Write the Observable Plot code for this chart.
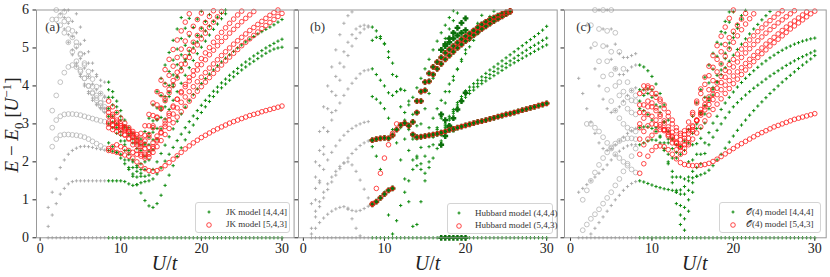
<!DOCTYPE html>
<html><head><meta charset="utf-8">
<script src="https://cdn.jsdelivr.net/npm/d3@7"></script>
<script src="https://cdn.jsdelivr.net/npm/@observablehq/plot@0.6"></script>
<style>
html,body{margin:0;padding:0;background:#fff;}
#wrap{position:relative;width:830px;height:277px;overflow:hidden;font-family:"Liberation Serif",serif;color:#222;}
.pnl{position:absolute;top:0;}
.leg{position:absolute;border:1px solid #d4d4d4;border-radius:3px;background:rgba(255,255,255,0.85);font-size:9px;color:#333;box-sizing:border-box;}
.leg .mk{position:absolute;width:10px;height:10px;}
.leg .tx{position:absolute;white-space:nowrap;line-height:10px;}
.xl{position:absolute;top:253px;font-size:20px;line-height:20px;transform:translateX(-50%);white-space:nowrap;}
.yl{position:absolute;left:13px;top:125px;font-size:19px;line-height:20px;white-space:nowrap;transform:translate(-50%,-50%) rotate(-90deg);}
</style></head>
<body><div id="wrap"></div>
<script>
// ---- shared U grid (U/t) ----
const Ugrid = [0.5,1,1.5,2,2.5,3,3.5,4,4.5,5,5.5,6,6.5,7,7.5,8,8.5,9,9.5,10,10.5,11,11.5,12,12.5,13,13.5,14,14.5,15,15.5,16,16.5,17,17.5,18,18.5,19,19.5,20,20.5,21,21.5,22,22.5,23,23.5,24,24.5,25,25.5,26,26.5,27,27.5,28,28.5,29,29.5,30];
const xTicks = [0,10,20,30];
const yTicks = [0,1,2,3,4,5,6];

// ground state level E - E0 = 0
const groundColored = {s:8.5, e:[0,0,0,0,0,0,0,0,0,0,0,0,0,0,0,0,0,0,0,0,0,0,0,0,0,0,0,0,0,0,0,0,0,0,0,0,0,0,0,0,0,0,0,0]};
const groundGray = {s:1, e:[0,0,0,0,0,0,0,0,0,0,0,0,0,0,0]};

// ---- (a) JK model ----
const jkGreen = [
  groundColored,
  {s:8.5, e:[2.3,2.28,2.25,2.2,2.05,1.85,1.62,1.4,1.18,0.98,0.84,0.8,0.9,1.12,1.38,1.65,1.9,2.14,2.37,2.58,2.78,2.97,3.14,3.3,3.45,3.59,3.72,3.84,3.95,4.05,4.15,4.24,4.33,4.42,4.5,4.58,4.65,4.72,4.79,4.86,4.92,4.97,5.0,5.02]},
  {s:8.5, e:[1.5,1.5,1.5,1.5,1.48,1.42,1.38,1.4,1.45,1.48,1.5,1.55,1.68,1.84,2.02,2.2,2.38,2.56,2.73,2.9,3.06,3.21,3.35,3.49,3.62,3.74,3.86,3.97,4.08,4.18,4.28,4.37,4.46,4.55,4.63,4.71,4.79,4.86,4.93,5.0,5.06,5.12,5.18,5.23]},
  {s:8.5, e:[3.4,3.2,3.0,2.8,2.55,2.3,2.05,1.85,1.7,1.62,1.65,1.8,2.0,2.22,2.44,2.66,2.87,3.07,3.26,3.44,3.61,3.77,3.92,4.06,4.19,4.31,4.42,4.53,4.63,4.73,4.82,4.91,5.0,5.08,5.16,5.23,5.3,5.37,5.43,5.49,5.55,5.61,5.68,5.75]},
  {s:8.5, e:[4.1,3.85,3.6,3.35,3.1,2.9,2.75,2.62,2.6,2.8,3.15,3.5,3.85,4.2,4.55,4.88,5.2,5.5,5.8]},
  {s:8.5, e:[3.7,3.5,3.3,3.1,2.9,2.7,2.5,2.35,2.3,2.45,2.75,3.08,3.42,3.75,4.07,4.38,4.68,4.97,5.25,5.52,5.78]},
  {s:8.5, e:[3.2,3.05,2.9,2.7,2.45,2.2,2.0,1.9,1.95,2.15,2.45,2.78,3.1,3.42,3.72,4.01,4.29,4.56,4.82,5.07,5.31,5.54,5.76,5.97]},
  {s:8.5, e:[3.0,2.9,2.75,2.55,2.3,2.05,1.85,1.75,1.8,2.0,2.28,2.58,2.88,3.17,3.45,3.72,3.98,4.23,4.47,4.7,4.92,5.13,5.33,5.52,5.7,5.88]},
  {s:8.5, e:[2.5,2.4,2.25,2.1,1.95,1.8,1.68,1.6,1.62,1.8,2.05,2.32,2.6,2.87,3.13,3.38,3.62,3.85,4.07,4.28,4.48,4.67,4.85,5.02,5.18,5.34,5.49,5.63,5.77,5.9]},
  {s:8.5, e:[3.9,3.7,3.45,3.2,2.95,2.75,2.6,2.5,2.45,2.5,2.65,2.88,3.12,3.36,3.6,3.83,4.05,4.26,4.46,4.65,4.83,5.0,5.16,5.31,5.45,5.58,5.7,5.81,5.91,6.0]}
];
const jkRed = [
  {s:8.5, e:[2.3,2.28,2.25,2.22,2.18,2.15,2.1,2.0,1.9,1.82,1.77,1.75,1.77,1.82,1.9,1.98,2.07,2.16,2.25,2.34,2.42,2.5,2.57,2.64,2.7,2.76,2.82,2.87,2.92,2.97,3.02,3.06,3.1,3.14,3.18,3.22,3.25,3.28,3.32,3.35,3.38,3.41,3.44,3.47]},
  {s:8.5, e:[3.05,2.98,2.9,2.82,2.72,2.6,2.45,2.3,2.2,2.15,2.2,2.35,2.55,2.78,3.0,3.22,3.44,3.65,3.85,4.04,4.22,4.4,4.56,4.72,4.87,5.01,5.15,5.28,5.41,5.53,5.65,5.76,5.87,5.97]},
  {s:8.5, e:[3.3,3.2,3.1,3.0,2.92,2.85,2.75,2.6,2.45,2.35,2.38,2.5,2.68,2.88,3.08,3.28,3.47,3.65,3.82,3.98,4.13,4.28,4.42,4.56,4.69,4.82,4.94,5.06,5.17,5.28,5.39,5.49,5.59,5.69,5.78,5.87,5.96]},
  {s:8.5, e:[3.4,3.25,3.05,2.95,2.9,2.8,2.65,2.5,2.3,2.2,2.25,2.4,2.58,2.76,2.93,3.1,3.26,3.42,3.57,3.71,3.85,3.98,4.11,4.23,4.35,4.47,4.58,4.69,4.8,4.9,5.0,5.1,5.19,5.28,5.37,5.46,5.54,5.62,5.7,5.78,5.86,5.93,6.0]},
  {s:8.5, e:[2.35,2.4,2.45,2.4,2.35,2.3,2.25,2.2,2.15,2.1,2.12,2.25,2.4,2.56,2.72,2.88,3.03,3.18,3.32,3.46,3.6,3.73,3.86,3.98,4.1,4.22,4.33,4.44,4.55,4.66,4.76,4.86,4.96,5.06,5.15,5.24,5.33,5.42,5.51,5.59,5.67,5.75,5.83,5.91]},
  {s:8.5, e:[3.6,3.45,3.3,3.15,3.02,2.9,2.8,2.72,2.75,2.95,3.25,3.55,3.85,4.15,4.43,4.7,4.96,5.21,5.45,5.68,5.9]},
  {s:8.5, e:[3.2,3.1,3.02,2.95,2.88,2.8,2.72,2.65,2.6,2.7,2.95,3.22,3.5,3.77,4.03,4.28,4.52,4.75,4.97,5.18,5.38,5.57,5.75,5.92]},
  {s:8.5, e:[2.9,2.85,2.8,2.75,2.7,2.62,2.55,2.45,2.4,2.45,2.65,2.9,3.16,3.42,3.67,3.91,4.14,4.36,4.57,4.77,4.96,5.15,5.33,5.5,5.67,5.83,5.98]},
  {s:8.5, e:[3.0,2.95,2.92,2.9,2.85,2.78,2.68,2.55,2.5,2.55,2.72,2.95,3.18,3.4,3.61,3.82,4.02,4.21,4.4,4.58,4.75,4.92,5.08,5.24,5.39,5.54,5.68,5.82,5.96]}
];
const jkGrayPlus = [
  groundGray,
  {s:1, e:[0.3,0.6,0.9,1.15,1.3,1.42,1.48,1.5,1.5,1.5,1.5,1.5,1.5,1.5,1.5]},
  {s:1, e:[0.8,1.2,1.55,1.85,2.05,2.2,2.3,2.36,2.4,2.41,2.4,2.38,2.35,2.33,2.31]},
  {s:3.5, e:[6.0,5.7,5.4,5.1,4.85,4.6,4.4,4.25,4.15,4.1]},
  {s:3, e:[6.0,5.65,5.3,5.0,4.72,4.47,4.25,4.05,3.9,3.8,3.73]},
  {s:2.5, e:[5.9,5.5,5.15,4.82,4.52,4.25,4.0,3.8,3.62,3.5,3.43,3.4]},
  {s:4.5, e:[5.9,5.55,5.2,4.9,4.6,4.3,4.0,3.7]},
  {s:3, e:[5.8,5.35,4.95,4.6,4.3,4.05,3.85,3.68,3.52,3.4,3.3]}
];
const jkGrayCircle = [
  {s:1.5, e:[2.4,2.6,2.7,2.72,2.72,2.71,2.7,2.68,2.65,2.6,2.54,2.48,2.42,2.36]},
  {s:1.5, e:[2.9,3.1,3.2,3.25,3.26,3.26,3.25,3.23,3.2,3.17,3.14,3.11,3.08,3.06]},
  {s:1.5, e:[3.35,3.75,4.1,4.35,4.5,4.55,4.5,4.38,4.2,4.0,3.8,3.62,3.47,3.35]},
  {s:1.5, e:[5.75,5.75,5.6,5.4,5.15,4.9,4.65,4.42,4.2,4.0,3.83,3.68,3.55,3.45]},
  {s:2, e:[6.0,5.85,5.7,5.5,5.28,5.05,4.82,4.6,4.38,4.18,3.98,3.8,3.65]},
  {s:3, e:[5.95,5.75,5.45,5.15,4.85,4.55,4.25,3.98,3.75,3.55,3.38]}
];

// ---- (b) Hubbard model ----
const hubShared = [
  {s:8.5, e:[2.57,2.6,2.62,2.63,2.62,2.7,2.85,2.97,3.02,2.95,2.72,2.65,2.66,2.68,2.7,2.72,2.74,2.77,2.8,2.84,2.87,2.9,2.93,2.96,2.99,3.02,3.05,3.07,3.1,3.13,3.16,3.19,3.22,3.25,3.27,3.3,3.33,3.36,3.39,3.42,3.45,3.48,3.51,3.54]},
  {s:8.5, e:[0.88,0.95,1.05,1.15,1.25,1.3]},
  {s:13.5, e:[3.05,3.6,3.85,4.1,4.33,4.5,4.63,4.75,4.87,4.96,5.05,5.14,5.23,5.31,5.38,5.46,5.54,5.62,5.69,5.75,5.8,5.85,5.9,5.94,5.98]},
  {s:14, e:[3.3,3.6,3.88,4.12,4.3,4.45,4.58,4.7,4.8,4.9,5.0,5.09,5.18,5.26,5.34,5.42,5.5,5.57,5.64,5.71,5.77,5.83,5.89,5.95]}
];
const hubGreenThickOnly = [
  {s:17, e:[0,0,0,0,0,0,0]},
  {s:17, e:[2.45,2.68,2.92,3.15,3.38,3.6,3.82]},
  {s:17, e:[3.25,3.1,2.95,2.85]},
  {s:17, e:[4.95,5.1,5.25,5.4,5.53,5.66,5.78]},
  {s:17, e:[4.95,5.05,5.15,5.25,5.33,5.4,5.47]}
];
const hubGreen = [
  groundColored,
  {s:8.5, e:[2.4,2.15,1.8,1.2,0.6,0.1,0.45,0.85,1.2,1.5,1.8,2.1,2.38,2.65,2.9,3.15,3.4,3.62,3.85,4.05,4.25,4.45,4.65,4.85,5.03,5.2,5.37,5.53,5.68,5.83,5.97]},
  {s:8.5, e:[5.55,5.45,5.3,5.1,4.75,4.3,3.85,3.45,3.1,2.85,2.7]},
  {s:8.5, e:[5.2,5.28,5.25,5.12,4.9,4.6,4.25,3.9]},
  {s:8.5, e:[4.45,4.3,4.15,4.0,3.82,3.75,3.85,3.92,3.88,3.6,3.25,2.95,2.7]},
  {s:17, e:[2.8,3.0,3.2,3.38,3.56,3.72,3.87,3.97,4.06,4.15,4.24,4.33,4.42,4.5,4.58,4.66,4.74,4.82,4.9,4.98,5.06,5.14,5.22,5.3,5.38,5.47,5.57]},
  {s:17, e:[2.75,2.95,3.15,3.33,3.5,3.65,3.78,3.88,3.97,4.06,4.14,4.22,4.3,4.38,4.45,4.52,4.59,4.66,4.73,4.8,4.87,4.94,5.01,5.07,5.13,5.2,5.26]},
  {s:17, e:[2.7,2.9,3.1,3.28,3.44,3.58,3.7,3.8,3.89,3.98,4.06,4.13,4.2,4.27,4.34,4.41,4.48,4.55,4.61,4.67,4.73,4.79,4.85,4.91,4.97,5.03,5.08]},
  {s:8.5, e:[3.72,3.65,3.55,3.4,3.15,2.85,2.5,2.05,1.55,0.95,0.3,0.35,0.95,1.5,2.0,2.45,2.85,3.2,3.55,3.85,4.15,4.43,4.7,4.95,5.2,5.43,5.65,5.86]},
  {s:12, e:[2.9,2.6,2.3,2.05,1.9,1.95,2.15,2.4,2.65,2.9,3.15]},
  {s:12.5, e:[3.3,3.0,2.6,2.15,1.8,1.7,1.85,2.1,2.35,2.55]},
  {s:14, e:[2.6,3.0,3.4,3.8,4.2,4.6,4.95,5.25,5.5,5.72,5.92]},
  {s:13, e:[3.5,3.7,3.95,4.2,4.45,4.7,4.95,5.18,5.4,5.6,5.8,5.98]}
];
const hubRedOnly = [
  {s:8.5, e:[0.9,1.3,1.7,2.1,2.45,2.75,3.0]}
];
const hubGrayPlus = [
  groundGray,
  {s:1, e:[0.25,0.55,0.82,1.05,1.27,1.47,1.65,1.82,1.97,2.1,2.22,2.33,2.43,2.5,2.55]},
  {s:1.5, e:[1.0,1.45,1.8,2.05,2.25,2.42,2.57,2.7,2.8,2.88,2.95,3.0,3.04,3.06]},
  {s:1.5, e:[1.3,1.9,2.4,2.8,3.1,3.35,3.55,3.75,3.92,4.07,4.2,4.32,4.4,4.42]},
  {s:1, e:[0.9,1.6,2.3,2.9,3.4,3.85,4.25,4.6,4.9,5.15,5.35,5.5,5.57,5.6,5.58]},
  {s:1.5, e:[2.0,2.8,3.45,4.0,4.5,4.95,5.35,5.65,5.85,5.95]},
  {s:1.5, e:[0.7,0.95,1.2,1.42,1.6,1.75,1.88,1.97,2.0,1.92,1.75,1.52,1.28,1.05]},
  {s:1, e:[0.1,0.25,0.4,0.52,0.62,0.7,0.76,0.8,0.82,0.78,0.72,0.7,0.72,0.77,0.83]},
  {s:5.5, e:[0.75,0.5,0.25,0.05]},
  {s:2, e:[1.5,2.2,2.8,3.3,3.75,4.15,4.5,4.8,5.05,5.25,5.4,5.5,5.55]}
];
const hubGrayCircle = [];

// ---- (c) O(4) model ----
const o4Green = [
  groundColored,
  {s:8.5, e:[1.5,1.47,1.43,1.39,1.35,1.32,1.29,1.27,1.25,1.25,1.26,1.35,1.5,1.58,1.62,1.66,1.7,1.78,1.9,2.05,2.2,2.36,2.52,2.68,2.83,2.97,3.1,3.23,3.35,3.47,3.58,3.69,3.8,3.9,4.0,4.1,4.19,4.28,4.37,4.46,4.55,4.63,4.71,4.8]},
  {s:8.5, e:[2.45,2.5,2.55,2.58,2.57,2.5,2.3,1.95,1.45,0.9,0.35,0.2,0.7,1.2,1.62,1.95,2.22,2.45,2.65,2.83,3.0,3.16,3.31,3.45,3.56,3.66,3.76,3.85,3.94,4.02,4.1,4.18,4.26,4.33,4.4,4.47,4.54,4.6,4.66,4.72,4.77,4.82,4.87,4.92]},
  {s:8.5, e:[2.9,2.92,2.92,2.88,2.8,2.68,2.5,2.2,1.75,1.2,0.6,0.5,1.0,1.45,1.85,2.2,2.5,2.77,3.02,3.2,3.38,3.55,3.7,3.84,3.97,4.09,4.2,4.3,4.4,4.49,4.58,4.66,4.74,4.81,4.88,4.94,5.0,5.05,5.1,5.14,5.18,5.21,5.24,5.26]},
  {s:8.5, e:[3.4,3.35,3.25,3.1,2.9,2.65,2.35,2.0,1.6,1.2,0.85,0.8,1.25,1.75,2.2,2.62,3.02,3.4,3.76,4.1,4.42,4.72,5.0,5.27,5.52,5.76,5.99]},
  {s:8.5, e:[3.9,3.9,3.92,3.9,3.75,3.45,3.05,2.6,2.1,1.6,1.15,1.15,1.6,2.05,2.48,2.88,3.26,3.62,3.96,4.28,4.58,4.86,5.13,5.38,5.62,5.85]},
  {s:8.5, e:[4.55,4.5,4.4,4.25,4.05,3.8,3.5,3.1,2.6,2.1,1.6,1.55,2.0,2.45,2.88,3.3,3.7,4.08,4.44,4.78,5.1,5.4,5.68,5.95]},
  {s:8.5, e:[3.6,3.75,3.8,3.7,3.5,3.3,3.05,2.8,2.6,2.45,2.4,2.55,2.85,3.2,3.55,3.9,4.23,4.55,4.86,5.15,5.43,5.7,5.95]},
  {s:12, e:[2.5,2.35,2.25,2.2,2.3,2.5,2.75,3.0,3.25,3.48,3.7,3.91,4.11,4.3,4.48,4.65,4.81,4.96,5.1,5.24,5.37,5.5,5.62,5.74,5.85,5.96]}
];
const o4Red = [
  {s:8.5, e:[1.7,1.95,2.15,2.3,2.4,2.42,2.4,2.32,2.2,2.08,1.98,1.93,1.91,1.9,1.9,1.91,1.93,1.96,2.01,2.07,2.14,2.21,2.28,2.35,2.42,2.48,2.54,2.6,2.66,2.72,2.77,2.82,2.87,2.92,2.96,3.0,3.04,3.08,3.12,3.15,3.18,3.21,3.24,3.27]},
  {s:8.5, e:[2.6,2.8,2.95,3.0,2.98,2.92,2.82,2.68,2.5,2.32,2.2,2.25,2.5,2.8,3.1,3.38,3.65,3.9,4.14,4.37,4.58,4.78,4.97,5.15,5.32,5.48,5.63,5.77,5.9]},
  {s:8.5, e:[3.0,3.3,3.45,3.45,3.35,3.2,3.02,2.85,2.68,2.52,2.42,2.45,2.62,2.85,3.08,3.3,3.51,3.71,3.9,4.08,4.25,4.41,4.56,4.7,4.84,4.97,5.09,5.21,5.32,5.43,5.53,5.63,5.72,5.81,5.9,5.98]},
  {s:8.5, e:[3.3,3.5,3.6,3.55,3.42,3.25,3.08,2.92,2.78,2.65,2.58,2.62,2.75,2.92,3.1,3.28,3.45,3.62,3.78,3.94,4.09,4.23,4.37,4.5,4.63,4.75,4.87,4.98,5.09,5.19,5.29,5.39,5.48,5.57,5.66,5.74,5.82,5.9,5.98]},
  {s:8.5, e:[3.5,3.85,4.0,3.95,3.8,3.6,3.4,3.2,3.0,2.82,2.7,2.72,2.82,2.95,3.09,3.23,3.37,3.51,3.64,3.77,3.9,4.02,4.14,4.26,4.37,4.48,4.59,4.7,4.8,4.9,5.0,5.1,5.19,5.28,5.37,5.46,5.55,5.63,5.71,5.79,5.87,5.95]},
  {s:8.5, e:[2.2,2.45,2.6,2.7,2.8,2.85,2.85,2.78,2.65,2.5,2.4,2.55,2.9,3.25,3.6,3.92,4.23,4.52,4.8,5.06,5.31,5.55,5.78,6.0]},
  {s:8.5, e:[3.8,4.0,3.95,3.8,3.7,3.65,3.5,3.3,3.1,2.9,2.75,2.82,3.05,3.3,3.55,3.8,4.04,4.27,4.49,4.7,4.9,5.09,5.27,5.44,5.6,5.76,5.91]},
  {s:8.5, e:[2.9,3.15,3.25,3.2,3.1,2.98,2.85,2.72,2.6,2.48,2.38,2.36,2.45,2.6,2.76,2.92,3.08,3.23,3.38,3.52,3.66,3.8,3.93,4.06,4.18,4.3,4.42,4.53,4.64,4.75,4.85,4.95,5.05,5.14,5.23,5.32,5.41,5.5,5.58,5.66,5.74,5.82,5.9,5.97]}
];
const o4GrayPlus = [
  groundGray,
  {s:3.5, e:[6.0,5.5,5.05,4.7,4.45,4.3,4.3,4.4,4.5,4.55]},
  {s:2, e:[5.6,5.0,4.45,4.0,3.65,3.4,3.3,3.35,3.45,3.6,3.75,3.88,3.95]},
  {s:1, e:[4.2,3.8,3.4,3.05,2.75,2.5,2.35,2.3,2.35,2.45,2.55,2.65,2.75,2.82,2.88]},
  {s:1, e:[1.2,1.3,1.4,1.5,1.6,1.7,1.8,1.92,2.05,2.18,2.28,2.36,2.42,2.45,2.45]},
  {s:2.5, e:[0.1,0.25,0.4,0.55,0.7,0.85,1.0,1.12,1.25,1.35,1.43,1.48]},
  {s:4.5, e:[6.0,5.5,5.1,4.85,4.75,4.75,4.8,4.85]}
];
const o4GrayCircle = [
  {s:3, e:[6.0,5.5,5.05,4.65,4.3,4.0,3.75,3.55,3.4,3.3,3.25]},
  {s:2.5, e:[5.6,5.1,4.65,4.25,3.9,3.6,3.35,3.15,3.0,2.9,2.85,2.8]},
  {s:4, e:[6.0,5.45,4.9,4.45,4.1,3.85,3.7,3.62,3.6]},
  {s:2, e:[3.0,3.0,2.9,2.8,2.65,2.5,2.35,2.2,2.1,2.0,1.9,1.8,1.72]},
  {s:1.5, e:[0.2,0.35,0.5,0.62,0.75,0.9,1.05,1.2,1.38,1.55,1.75,1.95,2.15,2.35]},
  {s:1.5, e:[1.0,1.25,1.5,1.72,1.92,2.1,2.25,2.38,2.48,2.55,2.6,2.62,2.62,2.6]},
  {s:5, e:[6.0,5.4,4.9,4.45,4.1,3.88,3.75]}
];

// legend labels
const legendA = ["JK model [4,4,4]", "JK model [5,4,3]"];
const legendB = ["Hubbard model (4,4,4)", "Hubbard model (5,4,3)"];
const legendC = ["\u{1D4AA}(4) model [4,4,4]", "\u{1D4AA}(4) model [5,4,3]"];

function expand(curves) {
  const out = [];
  for (const c of curves) {
    const i0 = Ugrid.indexOf(c.s);
    c.e.forEach((v, k) => out.push({u: Ugrid[i0 + k], e: v}));
  }
  return out;
}

const GREEN = "#108c10", DARKGREEN = "#0b700b", RED = "#ff1a1a";

const panels = [
  {L:35.7, R:293.3, dom:[-0.45,31.5], tag:"(a)", tagDx:16, showY:true,
   gp:jkGrayPlus, gc:jkGrayCircle, g:jkGreen, gt:[], r:jkRed,
   leg:{left:195, top:202, width:95, mx:208, tx:225, labels:legendA}},
  {L:298.3, R:557, dom:[-0.6,31.3], tag:"(b)", tagDx:19, showY:false,
   gp:hubGrayPlus, gc:hubGrayCircle, g:hubGreen, gt:hubShared.concat(hubGreenThickOnly), r:hubShared.concat(hubRedOnly),
   leg:{left:447, top:203, width:106, mx:458, tx:474, labels:legendB}},
  {L:564, R:825.7, dom:[-0.74,31.4], tag:"(c)", tagDx:19, showY:false,
   gp:o4GrayPlus, gc:o4GrayCircle, g:o4Green, gt:[], r:o4Red,
   leg:{left:719, top:202, width:102, mx:732, tx:745, labels:legendC}}
];

const wrap = document.getElementById("wrap");
const mL = 35, mR = 6;
for (const p of panels) {
  const chart = Plot.plot({
    width: p.R - p.L + mL + mR, height: 277,
    marginLeft: mL, marginRight: mR, marginTop: 9.5, marginBottom: 39.7,
    style: {background: "transparent", fontFamily: "Liberation Serif, serif", fontSize: "14px", color: "#222", overflow: "visible"},
    x: {domain: p.dom, ticks: xTicks, tickSize: 3.5, tickPadding: 1.5, label: null},
    y: {domain: [0, 6], ticks: yTicks, tickSize: 3.5, tickPadding: 4, label: null, tickFormat: p.showY ? (d => String(d)) : (() => "")},
    marks: [
      Plot.dot(expand(p.gp), {x: "u", y: "e", symbol: "plus", r: 1.15, stroke: "#a8a8a8", strokeWidth: 0.9}),
      Plot.dot(expand(p.gc), {x: "u", y: "e", symbol: "circle", r: 2.4, stroke: "#b5b5b5", fill: "none", strokeWidth: 0.8}),
      Plot.dot(expand(p.g), {x: "u", y: "e", symbol: "plus", r: 1.15, stroke: GREEN, strokeWidth: 1}),
      Plot.dot(expand(p.gt), {x: "u", y: "e", symbol: "plus", r: 2.0, stroke: DARKGREEN, strokeWidth: 2.4}),
      Plot.dot(expand(p.r), {x: "u", y: "e", symbol: "circle", r: 2.3, stroke: RED, fill: "none", strokeWidth: 0.8}),
      Plot.frame({stroke: "#999", strokeWidth: 1}),
      Plot.text([p.tag], {text: d => d, frameAnchor: "top-left", dx: p.tagDx, dy: 17, fontSize: 13, textAnchor: "middle", lineAnchor: "middle", fill: "#333"})
    ]
  });
  chart.classList.add("pnl");
  chart.style.left = (p.L - mL) + "px";
  chart.style.position = "absolute";
  chart.style.top = "0px";
  wrap.appendChild(chart);

  // x label
  const xl = document.createElement("div");
  xl.className = "xl";
  xl.style.left = ((p.L + p.R) / 2) + "px";
  xl.innerHTML = "<i>U</i>/<i>t</i>";
  wrap.appendChild(xl);

  // legend
  const lg = document.createElement("div");
  lg.className = "leg";
  lg.style.left = p.leg.left + "px";
  lg.style.top = p.leg.top + "px";
  lg.style.width = p.leg.width + "px";
  lg.style.height = "31px";
  const rows = [9, 21.5];
  p.leg.labels.forEach((lab, i) => {
    const mk = document.createElement("div");
    mk.className = "mk";
    mk.style.left = (p.leg.mx - p.leg.left - 5) + "px";
    mk.style.top = (rows[i] - 5) + "px";
    mk.innerHTML = i === 0
      ? `<svg width="10" height="10"><path d="M3.5,5H6.5M5,3.5V6.5" stroke="${GREEN}" stroke-width="1.1"/></svg>`
      : `<svg width="10" height="10"><circle cx="5" cy="5" r="2.3" fill="none" stroke="${RED}" stroke-width="0.8"/></svg>`;
    lg.appendChild(mk);
    const tx = document.createElement("div");
    tx.className = "tx";
    tx.style.left = (p.leg.tx - p.leg.left) + "px";
    tx.style.top = (rows[i] - 5.5) + "px";
    tx.textContent = lab;
    lg.appendChild(tx);
  });
  wrap.appendChild(lg);
}

// y label
const yl = document.createElement("div");
yl.className = "yl";
yl.innerHTML = "<i>E</i> \u2212 <i>E</i><sub style='font-size:13px'>0</sub> [<i>U</i><sup style='font-size:13px'>\u22121</sup>]";
wrap.appendChild(yl);
</script>
</body></html>
